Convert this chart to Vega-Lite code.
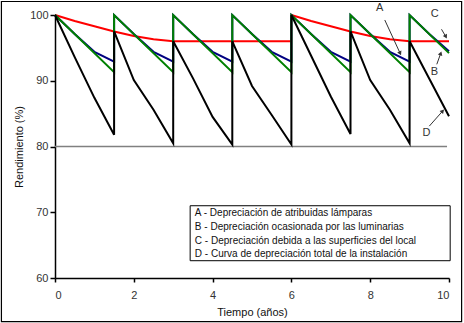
{
  "$schema": "https://vega.github.io/schema/vega-lite/v6.json",
  "width": 394,
  "height": 263,
  "autosize": {"type": "none"},
  "padding": {"left": 55, "top": 15, "right": 15, "bottom": 45},
  "background": "white",
  "config": {
    "view": {"stroke": null},
    "font": "Liberation Sans",
    "axis": {
      "grid": false,
      "domainColor": "black",
      "domainWidth": 1.5,
      "tickColor": "black",
      "tickWidth": 1.5,
      "labelColor": "#333",
      "labelFont": "Liberation Sans",
      "labelFontSize": 11,
      "titleFont": "Liberation Sans",
      "titleFontSize": 11,
      "titleFontWeight": "normal",
      "titleColor": "#111"
    }
  },
  "datasets": {
    "curvas": [
      {"serie": "A", "tramo": "A1", "orden": 1, "x": 0, "y": 100},
      {"serie": "A", "tramo": "A1", "orden": 2, "x": 0.5, "y": 99.1},
      {"serie": "A", "tramo": "A1", "orden": 3, "x": 1, "y": 98.3},
      {"serie": "A", "tramo": "A1", "orden": 4, "x": 1.5, "y": 97.5},
      {"serie": "A", "tramo": "A1", "orden": 5, "x": 2, "y": 96.8},
      {"serie": "A", "tramo": "A1", "orden": 6, "x": 2.5, "y": 96.3},
      {"serie": "A", "tramo": "A1", "orden": 7, "x": 3, "y": 96},
      {"serie": "A", "tramo": "A1", "orden": 8, "x": 6, "y": 96},
      {"serie": "A", "tramo": "A2", "orden": 9, "x": 6, "y": 100},
      {"serie": "A", "tramo": "A2", "orden": 10, "x": 6.5, "y": 99.1},
      {"serie": "A", "tramo": "A2", "orden": 11, "x": 7, "y": 98.3},
      {"serie": "A", "tramo": "A2", "orden": 12, "x": 7.5, "y": 97.5},
      {"serie": "A", "tramo": "A2", "orden": 13, "x": 8, "y": 96.8},
      {"serie": "A", "tramo": "A2", "orden": 14, "x": 8.5, "y": 96.3},
      {"serie": "A", "tramo": "A2", "orden": 15, "x": 9, "y": 96},
      {"serie": "A", "tramo": "A2", "orden": 16, "x": 10, "y": 96},

      {"serie": "B", "tramo": "B", "orden": 1, "x": 0, "y": 100},
      {"serie": "B", "tramo": "B", "orden": 2, "x": 0.5, "y": 97.1},
      {"serie": "B", "tramo": "B", "orden": 3, "x": 1, "y": 94.4},
      {"serie": "B", "tramo": "B", "orden": 4, "x": 1.5, "y": 92.9},
      {"serie": "B", "tramo": "B", "orden": 5, "x": 1.5, "y": 100},
      {"serie": "B", "tramo": "B", "orden": 6, "x": 2, "y": 97.1},
      {"serie": "B", "tramo": "B", "orden": 7, "x": 2.5, "y": 94.4},
      {"serie": "B", "tramo": "B", "orden": 8, "x": 3, "y": 92.9},
      {"serie": "B", "tramo": "B", "orden": 9, "x": 3, "y": 100},
      {"serie": "B", "tramo": "B", "orden": 10, "x": 3.5, "y": 97.1},
      {"serie": "B", "tramo": "B", "orden": 11, "x": 4, "y": 94.4},
      {"serie": "B", "tramo": "B", "orden": 12, "x": 4.5, "y": 92.9},
      {"serie": "B", "tramo": "B", "orden": 13, "x": 4.5, "y": 100},
      {"serie": "B", "tramo": "B", "orden": 14, "x": 5, "y": 97.1},
      {"serie": "B", "tramo": "B", "orden": 15, "x": 5.5, "y": 94.4},
      {"serie": "B", "tramo": "B", "orden": 16, "x": 6, "y": 92.9},
      {"serie": "B", "tramo": "B", "orden": 17, "x": 6, "y": 100},
      {"serie": "B", "tramo": "B", "orden": 18, "x": 6.5, "y": 97.1},
      {"serie": "B", "tramo": "B", "orden": 19, "x": 7, "y": 94.4},
      {"serie": "B", "tramo": "B", "orden": 20, "x": 7.5, "y": 92.9},
      {"serie": "B", "tramo": "B", "orden": 21, "x": 7.5, "y": 100},
      {"serie": "B", "tramo": "B", "orden": 22, "x": 8, "y": 97.1},
      {"serie": "B", "tramo": "B", "orden": 23, "x": 8.5, "y": 94.4},
      {"serie": "B", "tramo": "B", "orden": 24, "x": 9, "y": 92.9},
      {"serie": "B", "tramo": "B", "orden": 25, "x": 9, "y": 100},
      {"serie": "B", "tramo": "B", "orden": 26, "x": 9.5, "y": 97.1},
      {"serie": "B", "tramo": "B", "orden": 27, "x": 10, "y": 94.5},

      {"serie": "C", "tramo": "C", "orden": 1, "x": 0, "y": 100},
      {"serie": "C", "tramo": "C", "orden": 2, "x": 1.5, "y": 91.3},
      {"serie": "C", "tramo": "C", "orden": 3, "x": 1.5, "y": 100},
      {"serie": "C", "tramo": "C", "orden": 4, "x": 3, "y": 91.3},
      {"serie": "C", "tramo": "C", "orden": 5, "x": 3, "y": 100},
      {"serie": "C", "tramo": "C", "orden": 6, "x": 4.5, "y": 91.3},
      {"serie": "C", "tramo": "C", "orden": 7, "x": 4.5, "y": 100},
      {"serie": "C", "tramo": "C", "orden": 8, "x": 6, "y": 91.3},
      {"serie": "C", "tramo": "C", "orden": 9, "x": 6, "y": 100},
      {"serie": "C", "tramo": "C", "orden": 10, "x": 7.5, "y": 91.3},
      {"serie": "C", "tramo": "C", "orden": 11, "x": 7.5, "y": 100},
      {"serie": "C", "tramo": "C", "orden": 12, "x": 9, "y": 91.3},
      {"serie": "C", "tramo": "C", "orden": 13, "x": 9, "y": 100},
      {"serie": "C", "tramo": "C", "orden": 14, "x": 10, "y": 94.2},

      {"serie": "D", "tramo": "D", "orden": 1, "x": 0, "y": 100},
      {"serie": "D", "tramo": "D", "orden": 2, "x": 0.5, "y": 93.6},
      {"serie": "D", "tramo": "D", "orden": 3, "x": 1, "y": 87.4},
      {"serie": "D", "tramo": "D", "orden": 4, "x": 1.5, "y": 81.8},
      {"serie": "D", "tramo": "D", "orden": 5, "x": 1.5, "y": 97.5},
      {"serie": "D", "tramo": "D", "orden": 6, "x": 2, "y": 90.1},
      {"serie": "D", "tramo": "D", "orden": 7, "x": 2.5, "y": 85.6},
      {"serie": "D", "tramo": "D", "orden": 8, "x": 3, "y": 80.5},
      {"serie": "D", "tramo": "D", "orden": 9, "x": 3, "y": 96},
      {"serie": "D", "tramo": "D", "orden": 10, "x": 3.5, "y": 90.4},
      {"serie": "D", "tramo": "D", "orden": 11, "x": 4, "y": 84.5},
      {"serie": "D", "tramo": "D", "orden": 12, "x": 4.5, "y": 80.3},
      {"serie": "D", "tramo": "D", "orden": 13, "x": 4.5, "y": 96},
      {"serie": "D", "tramo": "D", "orden": 14, "x": 5, "y": 89.2},
      {"serie": "D", "tramo": "D", "orden": 15, "x": 5.5, "y": 84.8},
      {"serie": "D", "tramo": "D", "orden": 16, "x": 6, "y": 80.3},
      {"serie": "D", "tramo": "D", "orden": 17, "x": 6, "y": 100},
      {"serie": "D", "tramo": "D", "orden": 18, "x": 6.5, "y": 93.8},
      {"serie": "D", "tramo": "D", "orden": 19, "x": 7, "y": 87.6},
      {"serie": "D", "tramo": "D", "orden": 20, "x": 7.5, "y": 81.9},
      {"serie": "D", "tramo": "D", "orden": 21, "x": 7.5, "y": 97.5},
      {"serie": "D", "tramo": "D", "orden": 22, "x": 8, "y": 90.1},
      {"serie": "D", "tramo": "D", "orden": 23, "x": 8.5, "y": 85.6},
      {"serie": "D", "tramo": "D", "orden": 24, "x": 9, "y": 80.5},
      {"serie": "D", "tramo": "D", "orden": 25, "x": 9, "y": 96},
      {"serie": "D", "tramo": "D", "orden": 26, "x": 9.5, "y": 90.3},
      {"serie": "D", "tramo": "D", "orden": 27, "x": 10, "y": 84.6}
    ],
    "marco": [{"x": -1.36, "x2": 10.32, "y": 102.05, "y2": 53.38}],
    "cajaLeyenda": [{"x": 3.43, "x2": 10.03, "y": 70.99, "y2": 62.63}],
    "textosLeyenda": [
      {"x": 3.55, "y": 69.93, "texto": "A - Depreciación de atribuidas lámparas"},
      {"x": 3.55, "y": 67.8, "texto": "B - Depreciación ocasionada por las luminarias"},
      {"x": 3.55, "y": 65.67, "texto": "C - Depreciación debida a las superficies del local"},
      {"x": 3.55, "y": 63.6, "texto": "D - Curva de depreciación total de la instalación"}
    ],
    "flechas": [
      {"letra": "A", "x": 8.37, "y": 99.24, "x2": 8.76, "y2": 94.17, "lx": 8.24, "ly": 101.0, "angulo": 155},
      {"letra": "B", "x": 9.69, "y": 92.5, "x2": 9.79, "y2": 94.17, "lx": 9.63, "ly": 91.38, "angulo": 20},
      {"letra": "C", "x": 9.81, "y": 97.83, "x2": 9.92, "y2": 96.7, "lx": 9.64, "ly": 100.15, "angulo": 152},
      {"letra": "D", "x": 9.5, "y": 83.1, "x2": 9.84, "y2": 85.4, "lx": 9.43, "ly": 82.0, "angulo": 42}
    ]
  },
  "layer": [
    {
      "data": {"name": "marco"},
      "mark": {"type": "rect", "fill": null, "stroke": "black", "strokeWidth": 1.2, "clip": false},
      "encoding": {
        "x": {"field": "x", "type": "quantitative", "scale": {"domain": [0, 10], "nice": false, "zero": false}, "title": "Tiempo (años)"},
        "x2": {"field": "x2"},
        "y": {"field": "y", "type": "quantitative", "scale": {"domain": [60, 100], "nice": false, "zero": false}, "title": "Rendimiento (%)"},
        "y2": {"field": "y2"}
      }
    },
    {
      "data": {"values": [{"x": 0, "x2": 9.95, "y": 80}]},
      "mark": {"type": "rule", "color": "#808080", "strokeWidth": 1.5},
      "encoding": {
        "x": {"field": "x", "type": "quantitative", "title": "Tiempo (años)"},
        "x2": {"field": "x2"},
        "y": {"field": "y", "type": "quantitative", "title": "Rendimiento (%)"}
      }
    },
    {
      "data": {"name": "curvas"},
      "mark": {"type": "line", "strokeWidth": 2},
      "encoding": {
        "x": {
          "field": "x", "type": "quantitative", "title": "Tiempo (años)",
          "axis": {"values": [0, 2, 4, 6, 8, 10], "tickSize": 4, "labelPadding": 7, "titlePadding": 6}
        },
        "y": {
          "field": "y", "type": "quantitative", "title": "Rendimiento (%)",
          "axis": {"values": [60, 70, 80, 90, 100], "tickSize": 5, "labelPadding": 2, "titlePadding": 5}
        },
        "color": {
          "field": "serie", "type": "nominal", "legend": null,
          "scale": {"domain": ["B", "C", "D", "A"], "range": ["#000080", "#008000", "#000000", "#FF0000"]}
        },
        "detail": {"field": "tramo"},
        "order": {"field": "orden", "type": "quantitative"}
      }
    },
    {
      "data": {"name": "cajaLeyenda"},
      "mark": {"type": "rect", "fill": "white", "stroke": "black", "strokeWidth": 1},
      "encoding": {
        "x": {"field": "x", "type": "quantitative", "title": "Tiempo (años)"},
        "x2": {"field": "x2"},
        "y": {"field": "y", "type": "quantitative", "title": "Rendimiento (%)"},
        "y2": {"field": "y2"}
      }
    },
    {
      "data": {"name": "textosLeyenda"},
      "mark": {"type": "text", "align": "left", "baseline": "middle", "fontSize": 10, "font": "Liberation Sans", "color": "#111"},
      "encoding": {
        "x": {"field": "x", "type": "quantitative", "title": "Tiempo (años)"},
        "y": {"field": "y", "type": "quantitative", "title": "Rendimiento (%)"},
        "text": {"field": "texto"}
      }
    },
    {
      "data": {"name": "flechas"},
      "mark": {"type": "rule", "color": "#333", "strokeWidth": 1, "clip": false},
      "encoding": {
        "x": {"field": "x", "type": "quantitative", "title": "Tiempo (años)"},
        "x2": {"field": "x2"},
        "y": {"field": "y", "type": "quantitative", "title": "Rendimiento (%)"},
        "y2": {"field": "y2"}
      }
    },
    {
      "data": {"name": "flechas"},
      "mark": {"type": "point", "shape": "triangle-up", "filled": true, "color": "#333", "size": 22, "opacity": 1, "clip": false},
      "encoding": {
        "x": {"field": "x2", "type": "quantitative", "title": "Tiempo (años)"},
        "y": {"field": "y2", "type": "quantitative", "title": "Rendimiento (%)"},
        "angle": {"field": "angulo", "type": "quantitative", "scale": null}
      }
    },
    {
      "data": {"name": "flechas"},
      "mark": {"type": "text", "align": "center", "baseline": "middle", "fontSize": 11, "font": "Liberation Sans", "color": "#333", "clip": false},
      "encoding": {
        "x": {"field": "lx", "type": "quantitative", "title": "Tiempo (años)"},
        "y": {"field": "ly", "type": "quantitative", "title": "Rendimiento (%)"},
        "text": {"field": "letra"}
      }
    }
  ]
}
